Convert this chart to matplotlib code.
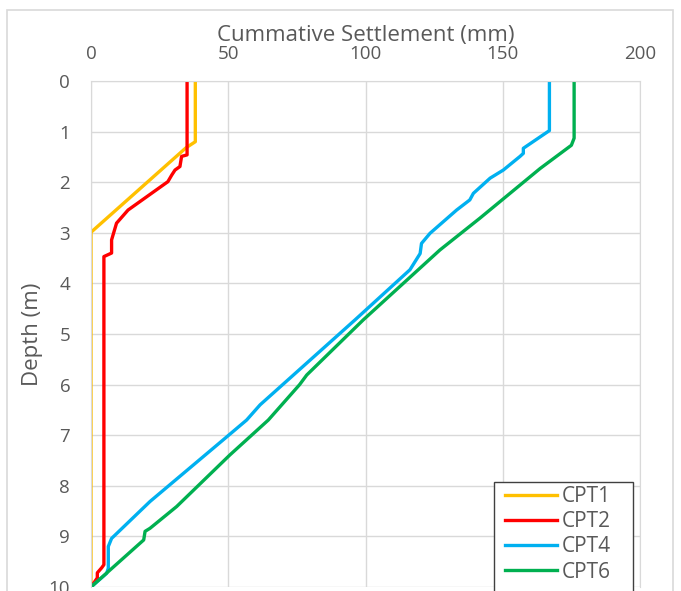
"""Cumulative settlement vs depth for four CPT soundings."""

import matplotlib

matplotlib.use("Agg")

import matplotlib.pyplot as plt
from matplotlib.patches import Rectangle

plt.rcParams["font.family"] = ["Open Sans", "DejaVu Sans"]

# settlement (mm) / depth (m) pairs
cpt1_settle = [38, 38, 34.6, 0.2, 0, 0]
cpt1_depth = [0, 1.2, 1.32, 2.98, 3.0, 10]

cpt2_settle = [35, 35, 33, 32.4, 30.6, 29.4, 28, 13.5, 9.3, 7.5, 7.5, 4.7, 4.7, 3.9, 2.3, 2.3, 0]
cpt2_depth = [0, 1.46, 1.49, 1.69, 1.76, 1.86, 1.99, 2.55, 2.81, 3.14, 3.4, 3.47, 9.56, 9.62, 9.72, 9.82, 10]

cpt4_settle = [167, 167, 157.5, 157.5, 156.3, 150.2, 145.4, 139.3, 138, 133.2, 123.5,
               120.4, 119.9, 116.2, 96.2, 61.6, 56.7, 48.2, 21.5, 7.5, 6.3, 6.3, 5.7, 0]
cpt4_depth = [0, 0.98, 1.33, 1.43, 1.49, 1.76, 1.92, 2.22, 2.35, 2.55, 3.01,
              3.21, 3.41, 3.73, 4.72, 6.4, 6.7, 7.09, 8.31, 9.04, 9.2, 9.63, 9.73, 10]

cpt6_settle = [176, 176, 175, 163.6, 141.7, 127.1, 99.2, 78.6, 76, 64.6, 50.6, 31.2,
               21.5, 19.7, 19.2, 0]
cpt6_depth = [0, 1.13, 1.27, 1.73, 2.71, 3.34, 4.72, 5.81, 6.0, 6.7, 7.39, 8.41,
              8.84, 8.9, 9.07, 10]

series = [
    ("CPT1", cpt1_settle, cpt1_depth, "#FFC000"),
    ("CPT2", cpt2_settle, cpt2_depth, "#FF0000"),
    ("CPT4", cpt4_settle, cpt4_depth, "#00B0F0"),
    ("CPT6", cpt6_settle, cpt6_depth, "#00B050"),
]

grey_text = "#595959"
grid_col = "#D9D9D9"

fig = plt.figure(figsize=(6.81, 5.91), dpi=100)
# outer chart frame
fig.patches.append(Rectangle((7 / 681, -0.01), 666 / 681, 1 - 10 / 591 + 0.01,
                             transform=fig.transFigure, fill=False,
                             edgecolor=grid_col, linewidth=1.2))

ax = fig.add_axes([91 / 681, 1 - 587 / 591, 549 / 681, 506 / 591])

for name, x, y, col in series:
    ax.plot(x, y, color=col, linewidth=2.4, label=name, solid_joinstyle="round")

ax.set_xlim(0, 200)
ax.set_ylim(10, 0)
ax.set_xticks([0, 50, 100, 150, 200])
ax.set_yticks(range(0, 11))
ax.xaxis.tick_top()
ax.xaxis.set_label_position("top")
ax.tick_params(axis="both", length=0, labelsize=13.5, labelcolor=grey_text)
ax.tick_params(axis="x", pad=13)
ax.tick_params(axis="y", pad=15)
ax.set_xlabel("Cummative Settlement (mm)", fontsize=16, color=grey_text)
ax.xaxis.set_label_coords(0.5, 1.089)
ax.xaxis.label.set_va("center")
ax.set_ylabel("Depth (m)", fontsize=16, color=grey_text, labelpad=4)

ax.grid(True, color=grid_col, linewidth=1)
ax.set_axisbelow(True)
for side, sp in ax.spines.items():
    sp.set_color(grid_col)
    if side == "bottom":
        sp.set_visible(False)

# legend box (runs off the bottom of the image like the original)
ax.add_patch(Rectangle((0.734, -0.05), 0.253, 0.2575, transform=ax.transAxes,
                       fill=True, facecolor="white", edgecolor="#404040",
                       linewidth=1, clip_on=False, zorder=4))
leg = ax.legend(loc="upper left", bbox_to_anchor=(0.754, 0.1996), fontsize=15,
                frameon=False, handlelength=2.5, handletextpad=0.25,
                labelspacing=0.2, borderpad=0, borderaxespad=0)
leg.set_zorder(5)
for t in leg.get_texts():
    t.set_color(grey_text)

fig.savefig("out.png", dpi=100)
plt.close(fig)
